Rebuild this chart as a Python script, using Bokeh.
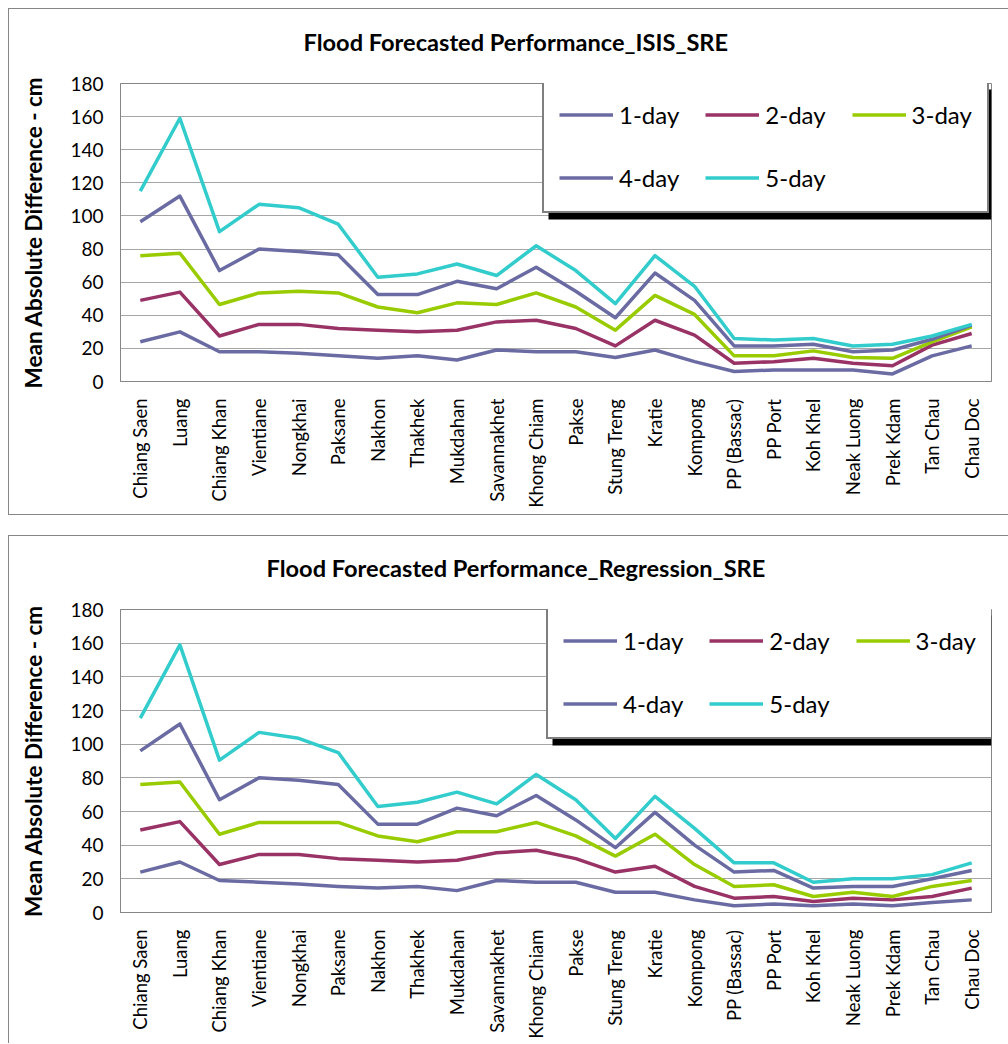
import math
from bokeh.plotting import figure
from bokeh.models import Legend, LegendItem, Range1d, FactorRange, FixedTicker, BoxAnnotation
from bokeh.layouts import column
from bokeh.embed import file_html
from bokeh.resources import INLINE

stations = ["Chiang Saen", "Luang", "Chiang Khan", "Vientiane", "Nongkhai", "Paksane",
            "Nakhon", "Thakhek", "Mukdahan", "Savannakhet", "Khong Chiam", "Pakse",
            "Stung Treng", "Kratie", "Kompong", "PP (Bassac)", "PP Port", "Koh Khel",
            "Neak Luong", "Prek Kdam", "Tan Chau", "Chau Doc"]
series_names = ["1-day", "2-day", "3-day", "4-day", "5-day"]
y_ticks = [0, 20, 40, 60, 80, 100, 120, 140, 160, 180]

isis_1day = [24, 30, 18, 18, 17, 15.5, 14, 15.5, 13, 19, 18, 18, 14.5, 19, 12, 6, 7, 7, 7, 4.6, 15.5, 21.5]
isis_2day = [49, 54, 27.5, 34.5, 34.5, 32, 31, 30, 31, 36, 37, 32, 21.5, 37, 28, 11, 12, 14, 11, 9.5, 22, 29]
isis_3day = [76, 77.5, 46.5, 53.5, 54.5, 53.5, 45, 41.5, 47.5, 46.5, 53.5, 45, 31, 52, 40.5, 15.5, 15.5, 18.5, 14.5, 14, 24, 33]
isis_4day = [96.5, 112, 67, 80, 78.5, 76.5, 52.5, 52.5, 60.5, 56, 69, 54.5, 38.5, 65.5, 49, 21.5, 21.5, 22.5, 18, 19, 25.5, 34]
isis_5day = [115, 159, 90.5, 107, 105, 95, 63, 65, 71, 64, 82, 67, 47, 76, 57.5, 26, 25, 26, 21.5, 22.5, 27.5, 34.5]

reg_1day = [24, 30, 19, 18, 17, 15.5, 14.5, 15.5, 13, 19, 18, 18, 12, 12, 7.5, 4, 5, 4, 5, 4, 6, 7.5]
reg_2day = [49, 54, 28.5, 34.5, 34.5, 32, 31, 30, 31, 35.5, 37, 32, 24, 27.5, 15.5, 8.5, 9.5, 6.5, 8.5, 7.5, 9.5, 14.5]
reg_3day = [76, 77.5, 46.5, 53.5, 53.5, 53.5, 45.5, 42, 48, 48, 53.5, 45.5, 33.5, 46.5, 28.5, 15.5, 16.5, 9.5, 12, 9.5, 15.5, 19]
reg_4day = [96, 112, 67, 80, 78.5, 76, 52.5, 52.5, 62, 57.5, 69.5, 55, 38.5, 59.5, 40, 24, 25, 14.5, 15.5, 15.5, 20, 25]
reg_5day = [115.5, 159, 90.5, 107, 103.5, 95, 63, 65.5, 71.5, 64.5, 82, 67, 44, 69, 50, 29.5, 29.5, 18, 20, 20, 22.5, 29.5]

colors = ["#6B6BA3", "#993366", "#99CC00", "#6B6BA3", "#33CCCC"]
FONT = "Lato"
GRAY = "#868686"
W = 1000
MB_LEFT, MB_RIGHT = 111, 18


def make_chart(title, series, height, mb_top, mb_bottom, legend_pos, title_offset, border_bottom):
    p = figure(x_range=FactorRange(*stations), y_range=Range1d(0, 180),
               width=W, height=height, output_backend="svg", toolbar_location=None,
               min_border_left=MB_LEFT, min_border_right=MB_RIGHT,
               min_border_top=mb_top, min_border_bottom=mb_bottom)
    p.title.text = title
    p.title.text_font = FONT
    p.title.text_font_size = "23.6px"
    p.title.text_font_style = "bold"
    p.title.text_color = "black"
    p.title.align = "left"
    p.title.offset = title_offset
    p.title.padding = dict(left=0, right=0, top=0, bottom=23)

    p.outline_line_color = GRAY
    p.outline_line_width = 1
    p.xgrid.grid_line_color = None
    p.ygrid.grid_line_color = "#A6A6A6"
    p.ygrid.grid_line_width = 1

    p.yaxis.ticker = FixedTicker(ticks=y_ticks)
    for ax in (p.xaxis[0], p.yaxis[0]):
        ax.axis_line_color = GRAY
        ax.major_tick_line_color = None
        ax.minor_tick_line_color = None
        ax.major_tick_out = 0
        ax.major_tick_in = 0
        ax.minor_tick_out = 0
        ax.minor_tick_in = 0
        ax.major_label_text_font = FONT
        ax.major_label_text_color = "black"
    p.yaxis.major_label_text_font_size = "19px"
    p.xaxis.major_label_text_font_size = "18.5px"
    p.yaxis.major_label_standoff = 17
    p.yaxis.axis_label = "Mean Absolute Difference - cm"
    p.yaxis.axis_label_text_font = FONT
    p.yaxis.axis_label_text_font_size = "22.5px"
    p.yaxis.axis_label_text_font_style = "bold"
    p.yaxis.axis_label_text_color = "black"
    p.yaxis.axis_label_standoff = 20
    p.xaxis.major_label_orientation = math.pi / 2
    p.xaxis.major_label_standoff = 17

    # legend drop shadow (offset 6 px right/down), converted from frame pixels to data units
    frame_w = W - MB_LEFT - MB_RIGHT
    frame_h = height - mb_top - mb_bottom
    x0, y0 = legend_pos
    lw, lh, off = 444, 130, 6
    xs = len(stations) / frame_w
    ys = 180.0 / frame_h
    shadow = BoxAnnotation(left=(x0 + off) * xs, right=min((x0 + lw + off) * xs, len(stations)),
                           bottom=(y0 - off) * ys, top=(y0 + lh - off) * ys,
                           fill_color="black", fill_alpha=1.0, line_color=None)
    p.add_layout(shadow)

    renderers = []
    for name, vals, c in zip(series_names, series, colors):
        r = p.line(x=stations, y=vals, line_color=c, line_width=3.5, line_join="round")
        renderers.append(r)

    lg = Legend(items=[LegendItem(label=n, renderers=[r]) for n, r in zip(series_names, renderers)],
                location=(x0, y0), orientation="horizontal", ncols=3,
                glyph_width=54, glyph_height=37, label_standoff=6,
                label_width=58, label_height=37, spacing=26, padding=15, margin=0,
                label_text_font=FONT, label_text_font_size="24px",
                label_text_color="black",
                border_line_color="black", border_line_width=2,
                background_fill_color="white", background_fill_alpha=1.0)
    p.add_layout(lg, "center")

    st = {"border-top": f"1px solid {GRAY}", "border-left": f"1px solid {GRAY}"}
    if border_bottom:
        st["border-bottom"] = f"1px solid {GRAY}"
    p.styles = st
    return p


p1 = make_chart("Flood Forecasted Performance_ISIS_SRE",
                [isis_1day, isis_2day, isis_3day, isis_4day, isis_5day],
                507, 74, 135, (422, 168), 183, True)
p2 = make_chart("Flood Forecasted Performance_Regression_SRE",
                [reg_1day, reg_2day, reg_3day, reg_4day, reg_5day],
                508, 73, 132, (426, 173), 146, False)

layout = column(p1, p2, spacing=20, margin=(8, 0, 0, 8))
open("out.html", "w").write(file_html(layout, INLINE))
